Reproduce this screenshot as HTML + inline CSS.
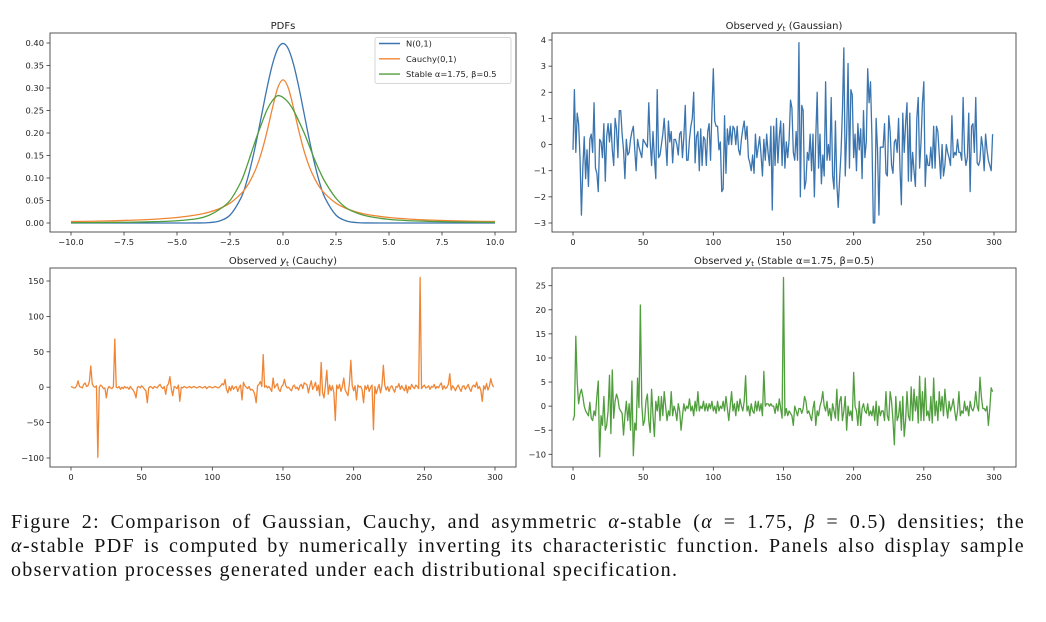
<!DOCTYPE html>
<html><head><meta charset="utf-8"><style>
body{margin:0;background:#fff;width:1046px;height:622px;overflow:hidden;position:relative}
svg{position:absolute;left:0;top:0}
text{font-family:"DejaVu Sans","Liberation Sans",sans-serif;fill:#222}
#cap{position:absolute;left:11px;top:511px;width:1014px;font-family:"Liberation Serif",serif;font-size:20px;letter-spacing:1.3px;line-height:23.8px;color:#111}
#cap .j{text-align:justify;text-align-last:justify;white-space:nowrap}
</style></head><body>
<svg id="fig" width="1046" height="500"></svg>
<div id="cap">
<div class="j">Figure 2: Comparison of Gaussian, Cauchy, and asymmetric <i>α</i>-stable (<i>α</i> = 1.75, <i>β</i> = 0.5) densities; the</div>
<div class="j"><i>α</i>-stable PDF is computed by numerically inverting its characteristic function. Panels also display sample</div>
<div>observation processes generated under each distributional specification.</div>
</div>
<script>
const pdfX=[-10,-9,-8,-7,-6,-5,-4,-3.5,-3,-2.5,-2,-1.75,-1.5,-1.25,-1,-0.75,-0.5,-0.25,0,0.25,0.5,0.75,1,1.25,1.5,1.75,2,2.5,3,3.5,4,5,6,7,8,9,10];
const pdfNormal=[0,0,0,0,0,0,0.0001,0.0009,0.0044,0.0175,0.054,0.086,0.130,0.183,0.242,0.301,0.352,0.387,0.399,0.387,0.352,0.301,0.242,0.183,0.130,0.086,0.054,0.0175,0.0044,0.0009,0.0001,0,0,0,0,0,0];
const pdfCauchy=[0.0032,0.0039,0.0049,0.0064,0.0086,0.0122,0.0187,0.024,0.032,0.044,0.064,0.078,0.098,0.124,0.159,0.204,0.255,0.300,0.318,0.300,0.255,0.204,0.159,0.124,0.098,0.078,0.064,0.044,0.032,0.024,0.0187,0.0122,0.0086,0.0064,0.0049,0.0039,0.0032];
const pdfStable=[0.0007,0.0009,0.0012,0.0018,0.003,0.005,0.01,0.017,0.03,0.05,0.09,0.12,0.155,0.19,0.222,0.252,0.272,0.283,0.279,0.268,0.25,0.226,0.20,0.17,0.14,0.113,0.09,0.055,0.033,0.022,0.015,0.008,0.005,0.0035,0.0025,0.0018,0.0015];
const gaussY=[-0.2,2.1,-0.3,1.2,0.8,-0.5,-2.7,-0.9,0.3,-1.3,-0.2,-1.6,0.2,0.4,-0.3,1.6,-0.9,-1.1,-1.8,0.2,
0.1,-0.5,0.8,-1.4,0.3,0.8,0.1,0.8,-0.2,-0.8,1.0,0.6,-0.5,1.3,1.3,0.4,-0.2,-1.3,0.2,-0.4,
-0.3,0.2,0.5,0.7,-0.2,-1.0,0.2,-0.1,-0.3,-0.5,0.2,0.1,0.0,-0.1,1.6,0.1,-0.8,0.5,-0.5,-1.3,
2.1,-0.5,-0.4,0.0,0.4,1.0,0.1,-0.8,0.9,0.1,0.5,-0.7,0.2,0.2,0.0,-0.4,0.4,0.5,-0.5,0.3,
1.5,-0.6,-0.6,0.2,0.7,1.0,2.0,-0.7,0.3,0.5,-1.0,0.6,-0.8,0.3,0.2,-0.8,0.5,0.8,-0.6,1.3,
2.9,0.9,0.7,0.7,-0.2,0.1,-1.8,-1.7,1.1,-1.1,0.6,0.0,0.7,0.0,0.7,0.6,0.0,0.7,-0.2,-0.4,
0.2,0.6,0.9,0.2,0.7,-0.5,-0.7,-1.0,-0.4,-1.1,0.4,-0.5,-0.1,0.3,-0.4,-1.2,0.2,-0.6,0.4,-0.3,
-0.8,0.7,-2.5,0.7,-0.8,1.0,-0.7,0.3,0.9,-0.8,0.8,-0.9,0.1,-0.5,0.2,1.7,1.4,-0.3,-0.6,0.5,
-0.6,3.9,-2.0,1.5,1.3,-1.7,-1.4,-0.3,-0.6,0.4,-1.0,0.4,-2.0,0.3,2.0,-0.9,0.4,-1.5,-0.4,-1.2,
2.4,-0.6,0.0,-0.6,1.8,-1.2,-1.7,0.9,-1.5,-2.4,-1.3,-0.3,1.3,3.7,-1.2,0.4,3.1,-0.9,2.1,1.9,
-0.5,0.4,-1.0,0.8,-0.2,0.6,-1.3,1.3,-0.5,0.1,2.9,1.6,2.4,0.3,-3.0,-3.0,1.0,-0.2,-2.7,-0.1,
-0.1,-0.1,0.8,-1.1,-1.2,1.1,0.5,-0.8,-1.1,0.1,0.2,-0.3,1.0,-0.9,-2.3,1.2,-0.3,0.8,1.6,-1.4,
1.2,-1.4,-0.3,-1.0,-1.6,1.0,1.8,-0.9,0.1,1.6,2.4,-1.6,-0.4,-0.8,-0.8,-0.1,-0.9,0.7,-0.9,0.7,
0.5,-0.4,-1.3,0.0,-1.2,-0.8,0.0,-0.3,-0.5,-0.8,1.1,-0.5,-0.3,-0.4,0.2,-0.3,-0.3,-0.6,1.8,-0.3,
-0.8,-0.5,1.2,-1.8,0.7,0.8,-0.3,1.8,-0.7,-0.8,-0.6,0.3,-0.1,-1.0,0.4,-0.2,-0.6,-0.8,-1.0,0.4];
const cauchyY=[1,0,-1,-1,2,9,1,0,-1,4,6,1,2,8,30,5,1,0,2,-99,
0,3,1,-2,-1,-15,-2,1,-1,-2,1,68,0,-1,1,-3,0,-2,1,-1,
0,-3,1,-2,-4,-8,-15,0,1,-1,2,0,-3,-5,-22,-1,1,0,-2,1,
0,-1,2,4,0,-2,1,-10,2,5,15,-3,-12,1,0,-2,3,-20,0,-1,
1,0,-1,0,1,-1,0,1,0,-1,0,1,0,-1,0,1,-2,0,1,0,
-1,0,1,0,-1,0,2,5,3,11,-3,-8,1,-5,2,-3,0,1,-6,0,
3,-18,7,2,0,-2,1,-4,-3,-5,-10,-22,2,4,8,1,46,0,2,-1,
1,-2,-6,13,-1,2,5,-3,-6,1,3,11,2,-1,0,-3,-5,1,3,-2,
0,-4,2,4,-2,6,5,3,-8,2,9,-3,1,7,-5,3,-12,35,-8,-15,
2,24,-10,3,-5,2,-8,-47,3,-2,4,-6,1,13,-4,-8,-12,6,38,2,
-5,2,-18,3,0,1,-4,-22,2,-3,3,-6,0,3,-60,1,-9,-2,4,-8,
2,31,3,-4,1,-6,0,2,-3,-7,1,0,5,-3,2,-2,-5,3,-8,1,
-3,4,0,-2,3,1,-2,155,-2,1,3,-1,0,2,-3,1,0,4,-2,1,
-1,3,6,-3,2,-2,0,4,19,-4,2,-1,-5,0,3,-2,-6,1,2,-3,
0,4,-2,-6,1,3,0,7,-2,1,-5,-20,2,-3,5,-4,1,12,4,0];
const stableY=[-3,-2,14.5,5,0.5,2.5,3.5,2,0,-1,-1.5,-2,0.8,-2.5,-3,-1,-2,2,5.2,-10.5,
-2,-4,2,-5,-4,-1,6.4,-5.7,7.5,-2.5,1,2.5,1.5,-0.5,-1,-1.5,-6,-2,1,-3,
0.5,-5,5.2,-10.3,-3.5,-5,5.8,-0.3,21,0.5,-4,-3,1,2.5,-3,-5.5,3.5,-2,-6.3,1,
-1,2,-3,2,-2,3,0,-3,-1,-2,3,-2,0,-1,-3,0.5,-1,-5,-2,0.5,
-1,0,-0.5,1.5,-1,0,-2,1,-1,3,-1,0,-0.5,1,-1,0.5,-1,0.5,-0.5,1,
-1,0,-1.5,1,-1,0,-0.5,1,-1,2,-0.5,-3,0,3,-1,0.5,-2,1,-1,1.5,
0,-1,1,6.3,-1,0,-2,0.5,-1,-1.5,1,-1,1,-1,0.5,-2,7.2,0,0.5,0.5,
0,0.5,0,0,-1.5,0.5,-1,1.5,-0.5,-2.5,26.7,-2,-0.5,-2,-1,-1.5,-2,-4,0,-1,
-2,-0.5,-0.5,-1.5,-0.5,2,1,-1.5,-1,-2,-3,-0.5,1,-4,-1,-2,0,1,3,0,
-1,1,-2,-0.5,-3,0.5,-1,-2.5,3.5,-3,1,2,-3,-1,2,-5,0,-2,-1,-3,
7,0,-1,-4,1,-4,-0.5,0.5,-1,-1.5,0.5,-2,-1,-2,0,-3,1,-4,0,-2,
-1,-1,-3,3,-2,-3,3,1,-3,-8,2,-3,-2,1,-5,2,-6.3,-3,3,-2,
-3,4,-3,3.5,-1,2,-3.5,6.2,-3,3,-3,5.8,-2,-1,-3,2,-3.5,5.8,-2,1,
-3,3,-1,2,-2,3.5,0,-2.5,1,-1,0,1.5,-1,-3,-1,3,-2,-1,-1.5,1,
-1,0,-2,1,-0.5,-1,0,3,0,-1,6,2,-0.5,-0.5,-1,0,-4,-0.5,3.8,3];
const pdfXTicks=[-10,-7.5,-5,-2.5,0,2.5,5,7.5,10];
const pdfYTicks=[0,0.05,0.1,0.15,0.2,0.25,0.3,0.35,0.4];
const tTicks=[0,50,100,150,200,250,300];
const gaussTicks=[-3,-2,-1,0,1,2,3,4];
const cauchyTicks=[-100,-50,0,50,100,150];
const stableTicks=[-10,-5,0,5,10,15,20,25];

const NS='http://www.w3.org/2000/svg';
const svg=document.getElementById('fig');
function mk(tag,attrs,parent){const e=document.createElementNS(NS,tag);for(const k in attrs)e.setAttribute(k,attrs[k]);(parent||svg).appendChild(e);return e;}
function lin(d0,d1,r0,r1){return v=>r0+(v-d0)*(r1-r0)/(d1-d0);}
function fmt(v,dec){const s=v.toFixed(dec);return s.replace('-','\u2212');}
function panel(name,box,sx,sy,xt,xdec,yt,ydec,title){
  const g=mk('g',{});
  
  
  const r=mk('rect',{x:box[0],y:box[1],width:box[2]-box[0],height:box[3]-box[1],fill:'none',stroke:'#444','stroke-width':0.9},g);
  
  
  xt.forEach(v=>{const x=sx(v);mk('line',{x1:x,x2:x,y1:box[3],y2:box[3]+3.5,stroke:'#333','stroke-width':0.8},g);
    const t=mk('text',{x:x,y:box[3]+13,'font-size':8.3,'text-anchor':'middle'},g);t.textContent=fmt(v,xdec);
    
    });
  yt.forEach(v=>{const y=sy(v);mk('line',{x1:box[0]-3.5,x2:box[0],y1:y,y2:y,stroke:'#333','stroke-width':0.8},g);
    const t=mk('text',{x:box[0]-6,y:y+3,'font-size':8.3,'text-anchor':'end'},g);t.textContent=fmt(v,ydec);
    
    });
  const tt=mk('text',{x:(box[0]+box[2])/2,y:box[1]-4,'font-size':10,'text-anchor':'middle'},g);
  tt.innerHTML=title;
  
  
  return g;
}
function path(g,xs,ys,sx,sy,color,nm,w){
  let d='';xs.forEach((x,i)=>{d+=(i?'L':'M')+sx(x).toFixed(2)+','+sy(ys[i]).toFixed(2);});
  const p=mk('path',{d:d,fill:'none',stroke:color,'stroke-width':w||1.3,'stroke-linejoin':'round'},g);
  
  
  return p;
}
function smooth(g,xs,ys,sx,sy,color,nm){
  const P=xs.map((x,i)=>[sx(x),sy(ys[i])]);let d='M'+P[0][0]+','+P[0][1];
  for(let i=0;i<P.length-1;i++){const p0=P[Math.max(0,i-1)],p1=P[i],p2=P[i+1],p3=P[Math.min(P.length-1,i+2)];
    d+='C'+(p1[0]+(p2[0]-p0[0])/6)+','+(p1[1]+(p2[1]-p0[1])/6)+' '+(p2[0]-(p3[0]-p1[0])/6)+','+(p2[1]-(p3[1]-p1[1])/6)+' '+p2[0]+','+p2[1];}
  const p=mk('path',{d:d,fill:'none',stroke:color,'stroke-width':1.3},g);
  
  
}
const C1='#3b75af',C2='#ef8636',C3='#519e3e';
const idx=gaussY.map((_,i)=>i);
{const sx=lin(-10,10,71,495),sy=lin(0,0.4,223,43);
 const g=panel('pdf-panel',[50,33,516,232],sx,sy,pdfXTicks,1,pdfYTicks,2,'PDFs');
 smooth(g,pdfX,pdfNormal,sx,sy,C1,'normal-pdf-line');
 smooth(g,pdfX,pdfCauchy,sx,sy,C2,'cauchy-pdf-line');
 smooth(g,pdfX,pdfStable,sx,sy,C3,'stable-pdf-line');
 const lg=mk('g',{},g);
 
 
 mk('rect',{x:375,y:37.5,width:136,height:46,fill:'#fff',stroke:'#ccc','stroke-width':0.8,rx:2},lg);
 [['N(0,1)',C1],['Cauchy(0,1)',C2],['Stable α=1.75, β=0.5',C3]].forEach((e,i)=>{
   const y=43.5+i*15.3;
   const ln=mk('line',{x1:379,x2:400,y1:y,y2:y,stroke:e[1],'stroke-width':1.4},lg);
   
   
   const t=mk('text',{x:406,y:y+3,'font-size':8.3},lg);t.textContent=e[0];
   
   });
}
{const sx=lin(0,300,573,994),sy=lin(-3,4,223,40);
 const g=panel('gaussian-panel',[552,33,1016,232],sx,sy,tTicks,0,gaussTicks,0,'Observed <tspan font-style="italic">y</tspan><tspan font-size="7" dy="2">t</tspan><tspan dy="-2"> (Gaussian)</tspan>');
 path(g,idx,gaussY,sx,sy,C1,'gaussian-series-line');}
{const sx=lin(0,300,71,495),sy=lin(-100,150,458,281);
 const g=panel('cauchy-panel',[50,268,516,467],sx,sy,tTicks,0,cauchyTicks,0,'Observed <tspan font-style="italic">y</tspan><tspan font-size="7" dy="2">t</tspan><tspan dy="-2"> (Cauchy)</tspan>');
 path(g,cauchyY.map((_,i)=>i),cauchyY,sx,sy,C2,'cauchy-series-line');}
{const sx=lin(0,300,573,994),sy=lin(-10,25,454.3,285.7);
 const g=panel('stable-panel',[552,268,1016,467],sx,sy,tTicks,0,stableTicks,0,'Observed <tspan font-style="italic">y</tspan><tspan font-size="7" dy="2">t</tspan><tspan dy="-2"> (Stable α=1.75, β=0.5)</tspan>');
 path(g,stableY.map((_,i)=>i),stableY,sx,sy,C3,'stable-series-line');}
</script>
</body></html>
